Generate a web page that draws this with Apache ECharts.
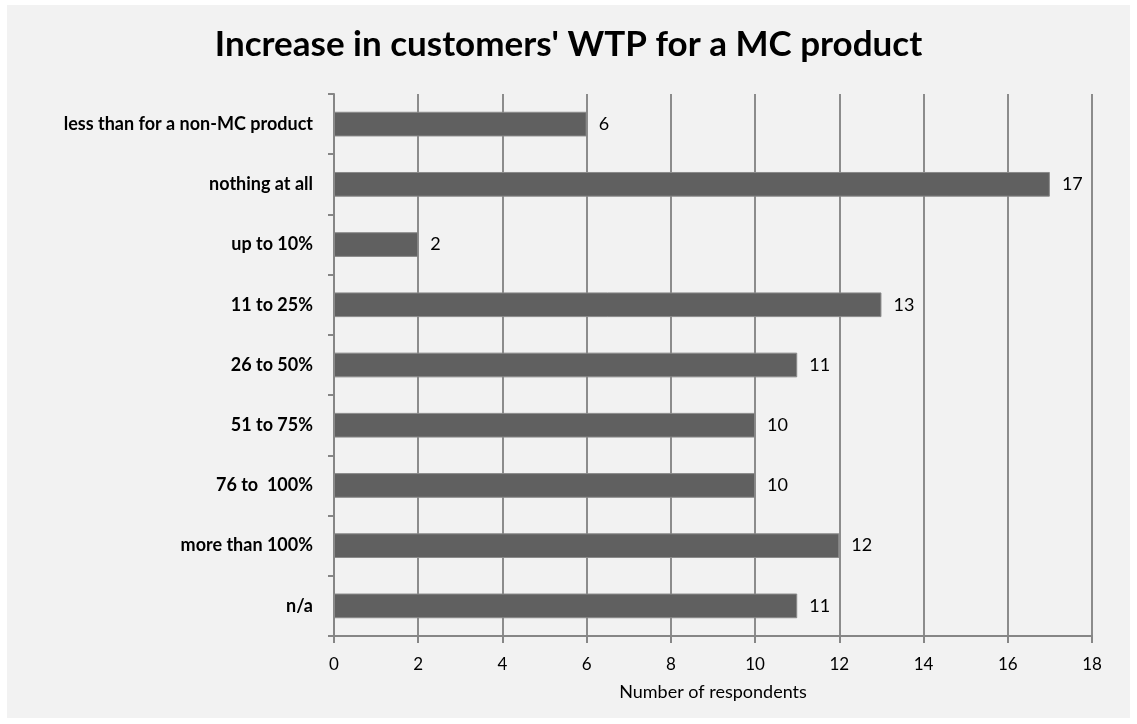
<!DOCTYPE html>
<html>
<head>
<meta charset="utf-8">
<script src="https://cdn.jsdelivr.net/npm/echarts@6/dist/echarts.min.js"></script>
<style>
  html, body { margin: 0; padding: 0; background: #ffffff; }
  #frame { position: absolute; left: 7px; top: 5px; width: 1123px; height: 713px; background: #f2f2f2; }
  #chart { width: 1123px; height: 713px; }
</style>
</head>
<body>
<div id="frame"><div id="chart"></div></div>
<script>
// Answer categories, top to bottom
const categories = [
  'less than for a non-MC product',
  'nothing at all',
  'up to 10%',
  '11 to 25%',
  '26 to 50%',
  '51 to 75%',
  '76 to  100%',
  'more than 100%',
  'n/a'
];
// Number of respondents per category
const respondents = [6, 17, 2, 13, 11, 10, 10, 12, 11];
const xTicks = [0, 2, 4, 6, 8, 10, 12, 14, 16, 18];

const font = 'Lato, "Open Sans", sans-serif';
const chart = echarts.init(document.getElementById('chart'), null, { renderer: 'canvas' });
chart.setOption({
  backgroundColor: '#f2f2f2',
  animation: false,
  title: {
    text: "Increase in customers' WTP for a MC product",
    left: 'center',
    top: 17,
    textStyle: { fontFamily: font, fontSize: 35, fontWeight: 'bold', color: '#000' }
  },
  grid: { left: 327, right: 38, top: 89, bottom: 82, containLabel: false },
  xAxis: {
    type: 'value',
    min: xTicks[0],
    max: xTicks[xTicks.length - 1],
    interval: 2,
    name: 'Number of respondents',
    nameLocation: 'middle',
    nameGap: 47,
    nameTextStyle: { fontFamily: font, fontSize: 18, color: '#000' },
    axisLine: { show: true, lineStyle: { color: '#868686', width: 2 } },
    axisTick: { show: true, length: 7, lineStyle: { color: '#868686', width: 2 } },
    axisLabel: { fontFamily: font, fontSize: 17, color: '#000', margin: 20 },
    splitLine: { show: true, lineStyle: { color: '#8c8c8c', width: 2 } }
  },
  yAxis: {
    type: 'category',
    data: categories,
    inverse: true,
    axisLine: { show: true, lineStyle: { color: '#868686', width: 2 } },
    axisTick: { show: true, length: 6, lineStyle: { color: '#868686', width: 2 } },
    axisLabel: { fontFamily: font, fontSize: 18, fontWeight: 'bold', color: '#000', margin: 21 },
    splitLine: { show: false }
  },
  series: [{
    type: 'bar',
    data: respondents,
    barWidth: '41%',
    itemStyle: { color: '#606060', borderColor: '#8a8a8a', borderWidth: 1 },
    label: {
      show: true,
      position: 'right',
      distance: 12,
      fontFamily: font,
      fontSize: 18,
      color: '#000'
    }
  }]
});
</script>
</body>
</html>
